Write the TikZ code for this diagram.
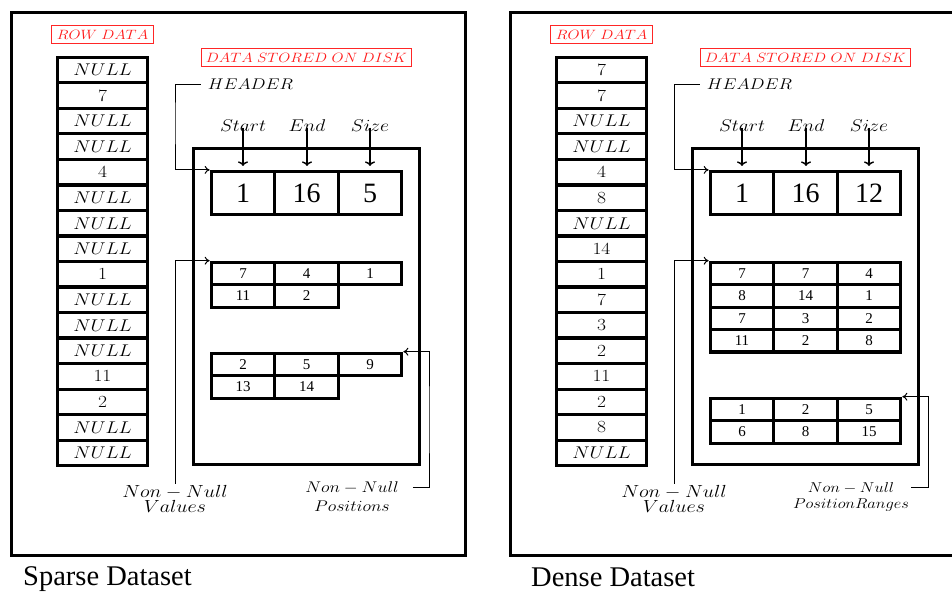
\RequirePackage{fix-cm}
\documentclass[tikz,border=0pt]{standalone}
\usepackage[no-math]{fontspec}
\usetikzlibrary{arrows.meta}
\newfontfamily\tms{Liberation Serif}
\newcommand{\mi}[1]{\scalebox{1.15}[1]{$#1$}}
\begin{document}
\begin{tikzpicture}[x=1pt,y=-1pt,
  panel/.style={draw, line width=3.2pt, inner sep=0pt},
  rcell/.style={draw, line width=3.2pt, minimum width=90.5pt, minimum height=25.5pt, inner sep=0pt, font=\fontsize{17}{20}\selectfont},
  hcell/.style={draw, line width=3.2pt, minimum width=63.5pt, minimum height=43pt, inner sep=0pt, font=\tms\fontsize{28}{30}\selectfont},
  tcell/.style={draw, line width=3.2pt, minimum width=63.5pt, minimum height=22.4pt, inner sep=0pt, font=\tms\fontsize{15}{17}\selectfont},
  redlab/.style={draw=red!85, text=red!90, line width=0.9pt, inner sep=0pt, minimum height=18pt, font=\fontsize{13.5}{16}\selectfont},
  lab/.style={inner sep=1pt, anchor=base, font=\fontsize{17}{19}\selectfont},
  caption/.style={inner sep=0pt, anchor=base west, font=\tms\fontsize{28.5}{30}\selectfont},
  conn/.style={-{To[length=5pt,width=8pt]}, line width=1pt},
  darr/.style={-{To[length=4.5pt,width=10pt]}, line width=1.4pt},
]
\useasboundingbox (0,0) rectangle (952,591);
\clip (0,0) rectangle (952,591);

% ================= LEFT: Sparse =================
\node[panel, minimum width=454pt, minimum height=543pt] (panL) at (238.5,284) {};
\node[redlab, minimum width=102pt] (rowL) at (102.5,34.5) {\mi{ROW\;DATA}};
\node[redlab, minimum width=210pt] (diskL) at (306.5,57.5) {\mi{DATA\;STORED\;ON\;DISK}};
\foreach \v [count=\i] in {NULL,7,NULL,NULL,4,NULL,NULL,NULL,1,NULL,NULL,NULL,11,2,NULL,NULL}
  \node[rcell] (L\i) at (102.5,{57.3+25.525*(\i-0.5)}) {\mi{\v}};
\node[panel, minimum width=226pt, minimum height=316pt] (stoL) at (306.5,306.5) {};
\node[hcell] (hL1) at (243.0,193) {1};
\node[hcell] (hL2) at (306.5,193) {16};
\node[hcell] (hL3) at (370.0,193) {5};
\node[lab, font=\fontsize{15.5}{17}\selectfont] (hdrL) at (250.5,89.3) {\mi{HEADER}};
\node[lab] (sL) at (243,131.5) {\mi{Start}};
\node[lab] (eL) at (307,131.5) {\mi{End}};
\node[lab] (zL) at (370,131.5) {\mi{Size}};
\foreach \a/\b in {sL/hL1,eL/hL2,zL/hL3}
  \draw[darr, shorten >=4pt] ([yshift=-2pt]\a.center) -- (\a.center |- \b.north);
\coordinate (hbL) at (175,120);
\draw[conn, shorten <=6pt] (hdrL.west) -| (hbL) |- (hL1.north west);
% values
\node[tcell] (vL1) at (243.0,273.5) {7};
\node[tcell] (vL2) at (306.5,273.5) {4};
\node[tcell] (vL3) at (370.0,273.5) {1};
\node[tcell] (vL4) at (243.0,295.9) {11};
\node[tcell] (vL5) at (306.5,295.9) {2};
% positions
\node[tcell] (pL1) at (243.0,364.5) {2};
\node[tcell] (pL2) at (306.5,364.5) {5};
\node[tcell] (pL3) at (370.0,364.5) {9};
\node[tcell] (pL4) at (243.0,386.9) {13};
\node[tcell] (pL5) at (306.5,386.9) {14};
% labels
\node[lab, font=\fontsize{17.5}{19}\selectfont] (nnvL) at (175,497) {\mi{Non-Null}};
\node[lab, font=\fontsize{17.5}{19}\selectfont] (valL) at (175,512) {\mi{Values}};
\draw[conn] (nnvL.north) |- (vL1.north west);
\node[lab, font=\fontsize{15.5}{17}\selectfont] (nnpL) at (352,492) {\mi{Non-Null}};
\node[lab, font=\fontsize{15.5}{17}\selectfont] (posL) at (352,511.5) {\mi{Positions}};
\coordinate (pbL) at (429,420);
\draw[conn, shorten <=13pt] (nnpL.east) -| (pbL) |- (pL3.north east);
\node[caption] (capL) at (23,585) {Sparse Dataset};

% ================= RIGHT: Dense =================
\node[panel, minimum width=454pt, minimum height=543pt] (panR) at (737.5,284) {};
\node[redlab, minimum width=102pt] (rowR) at (601.5,34.5) {\mi{ROW\;DATA}};
\node[redlab, minimum width=210pt] (diskR) at (805.5,57.5) {\mi{DATA\;STORED\;ON\;DISK}};
\foreach \v [count=\i] in {7,7,NULL,NULL,4,8,NULL,14,1,7,3,2,11,2,8,NULL}
  \node[rcell] (R\i) at (601.5,{57.3+25.525*(\i-0.5)}) {\mi{\v}};
\node[panel, minimum width=226pt, minimum height=316pt] (stoR) at (805.5,306.5) {};
\node[hcell] (hR1) at (742.0,193) {1};
\node[hcell] (hR2) at (805.5,193) {16};
\node[hcell] (hR3) at (869.0,193) {12};
\node[lab, font=\fontsize{15.5}{17}\selectfont] (hdrR) at (749.5,89.3) {\mi{HEADER}};
\node[lab] (sR) at (742,131.5) {\mi{Start}};
\node[lab] (eR) at (806,131.5) {\mi{End}};
\node[lab] (zR) at (869,131.5) {\mi{Size}};
\foreach \a/\b in {sR/hR1,eR/hR2,zR/hR3}
  \draw[darr, shorten >=4pt] ([yshift=-2pt]\a.center) -- (\a.center |- \b.north);
\coordinate (hbR) at (674,120);
\draw[conn, shorten <=6pt] (hdrR.west) -| (hbR) |- (hR1.north west);
% values
\foreach \v [count=\i] in {7,7,4,8,14,1,7,3,2,11,2,8}
  \node[tcell] (vR\i) at ({742.0+63.5*mod(\i-1,3)},{273.5+22.4*int((\i-1)/3)}) {\v};
% position ranges
\foreach \v [count=\i] in {1,2,5,6,8,15}
  \node[tcell] (pR\i) at ({742.0+63.5*mod(\i-1,3)},{409.5+22.4*int((\i-1)/3)}) {\v};
% labels
\node[lab, font=\fontsize{17.5}{19}\selectfont] (nnvR) at (674,497) {\mi{Non-Null}};
\node[lab, font=\fontsize{17.5}{19}\selectfont] (valR) at (674,512) {\mi{Values}};
\draw[conn] (nnvR.north) |- (vR1.north west);
\node[lab, font=\fontsize{14.3}{16}\selectfont] (nnpR) at (851,492) {\mi{Non-Null}};
\node[lab, font=\fontsize{14.3}{16}\selectfont] (posR) at (851,508.5) {\mi{PositionRanges}};
\coordinate (pbR) at (928,460);
\draw[conn, shorten <=16pt] (nnpR.east) -| (pbR) |- (pR3.north east);
\node[caption] (capR) at (531,586) {Dense Dataset};
\end{tikzpicture}
\end{document}
